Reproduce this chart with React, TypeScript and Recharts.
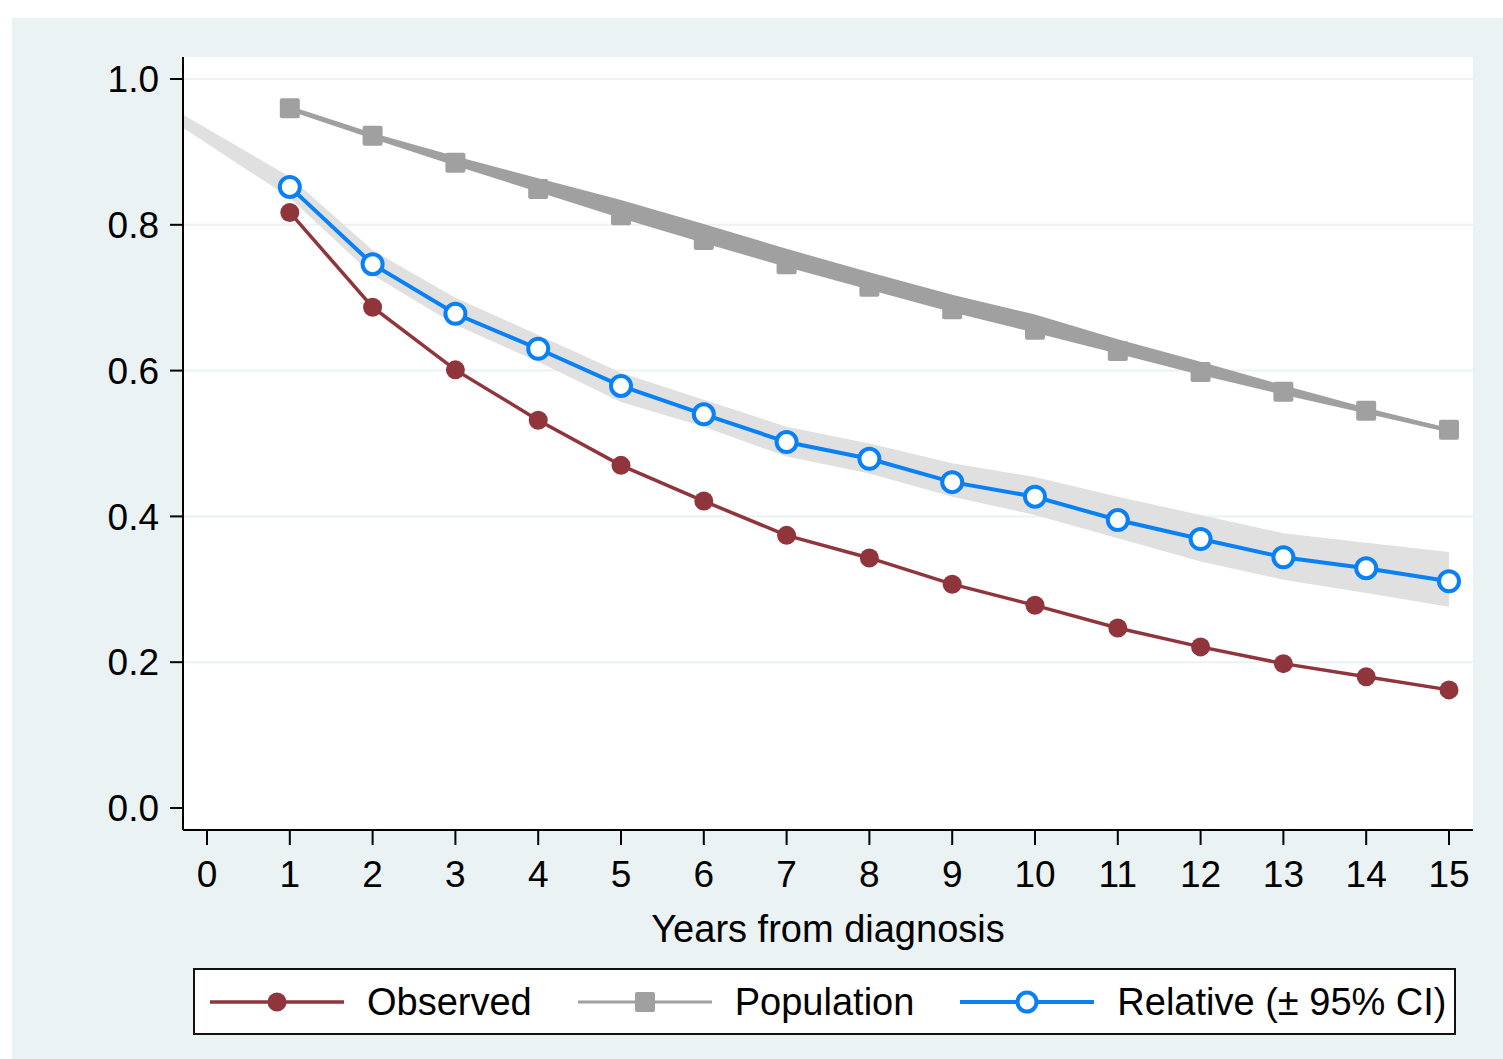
import { ComposedChart, Line, Area, XAxis, YAxis, CartesianGrid } from 'recharts'

const years = [1, 2, 3, 4, 5, 6, 7, 8, 9, 10, 11, 12, 13, 14, 15]
const observed = [0.817, 0.687, 0.601, 0.532, 0.47, 0.421, 0.374, 0.343, 0.307, 0.278, 0.247, 0.221, 0.198, 0.18, 0.162]
const population = [0.96, 0.922, 0.885, 0.849, 0.813, 0.779, 0.746, 0.715, 0.684, 0.656, 0.627, 0.598, 0.571, 0.545, 0.519]
const popUpper = [0.963, 0.926, 0.894, 0.864, 0.834, 0.801, 0.767, 0.735, 0.704, 0.677, 0.643, 0.612, 0.58, 0.549, 0.521]
const popLower = [0.956, 0.918, 0.881, 0.845, 0.809, 0.775, 0.742, 0.711, 0.68, 0.652, 0.623, 0.594, 0.567, 0.541, 0.515]
const relative = [0.852, 0.746, 0.678, 0.63, 0.579, 0.54, 0.502, 0.479, 0.447, 0.427, 0.395, 0.369, 0.344, 0.329, 0.311]
const relUpper = [0.866, 0.765, 0.7, 0.649, 0.597, 0.56, 0.523, 0.5, 0.473, 0.454, 0.427, 0.402, 0.377, 0.364, 0.351]
const relLower = [0.837, 0.731, 0.663, 0.612, 0.557, 0.523, 0.482, 0.459, 0.427, 0.402, 0.37, 0.338, 0.313, 0.295, 0.276]
// CI band runs on to the left edge of the plot
const bandStart = { year: -0.29, relLo: 0.933, relHi: 0.951 }

const xTicks = [0, 1, 2, 3, 4, 5, 6, 7, 8, 9, 10, 11, 12, 13, 14, 15]
const yTicks = [0, 0.2, 0.4, 0.6, 0.8, 1.0]

const RED = '#90353B'
const GREY = '#A0A0A0'
const BLUE = '#0A80F5'
const BAND = '#E0E0E0'
const BG = '#EAF2F3'
const FONT = '"Liberation Sans", Arial, sans-serif'

const data = [
  bandStart,
  ...years.map((y, i) => ({
    year: y,
    obs: observed[i],
    pop: population[i],
    popLo: popLower[i],
    popHi: popUpper[i],
    rel: relative[i],
    relLo: relLower[i],
    relHi: relUpper[i],
  })),
]

const legendItems = [
  { name: 'Observed', color: RED, marker: 'dot', width: 3.5 },
  { name: 'Population', color: GREY, marker: 'square', width: 3 },
  { name: 'Relative (\u00b1 95% CI)', color: BLUE, marker: 'ring', width: 4 },
]

const ok = (v: any) => typeof v === 'number' && isFinite(v)

const DotMark = (p: any) => ok(p.cx) && ok(p.cy) ? <circle key={p.key} cx={p.cx} cy={p.cy} r={9.5} fill={RED} /> : <g key={p.key} />
const SquareMark = (p: any) => ok(p.cx) && ok(p.cy) ? <rect key={p.key} x={p.cx - 10} y={p.cy - 10} width={20} height={20} rx={2} fill={GREY} /> : <g key={p.key} />
const RingMark = (p: any) => ok(p.cx) && ok(p.cy) ? <circle key={p.key} cx={p.cx} cy={p.cy} r={10} fill="#fff" stroke={BLUE} strokeWidth={4} /> : <g key={p.key} />

function LegendBox() {
  return (
    <div style={{ position: 'absolute', left: 193, top: 968, width: 1263, height: 67, boxSizing: 'border-box', border: '2px solid #111', background: '#fff', display: 'flex', alignItems: 'center', paddingLeft: 15, fontFamily: FONT, fontSize: 38, color: '#000' }}>
      {legendItems.map((it, i) => (
        <div key={it.name} style={{ display: 'flex', alignItems: 'center', marginLeft: i === 0 ? 0 : 46 }}>
          <svg width={134} height={30}>
            <line x1={0} x2={134} y1={15} y2={15} stroke={it.color} strokeWidth={it.width} />
            {it.marker === 'dot' && <circle cx={67} cy={15} r={9.5} fill={it.color} />}
            {it.marker === 'square' && <rect x={57} y={5} width={20} height={20} rx={2} fill={it.color} />}
            {it.marker === 'ring' && <circle cx={67} cy={15} r={9.5} fill="#fff" stroke={it.color} strokeWidth={4} />}
          </svg>
          <span style={{ marginLeft: 23, lineHeight: 1 }}>{it.name}</span>
        </div>
      ))}
    </div>
  )
}

export default function App() {
  return (
    <div style={{ position: 'absolute', left: 0, top: 0, width: 1503, height: 1059, background: '#fff', overflow: 'hidden' }}>
      <div style={{ position: 'absolute', left: 12, top: 18, right: 0, bottom: 0, background: BG }} />
      <div style={{ position: 'absolute', left: 0, top: 0, fontFamily: FONT }}>
        <ComposedChart width={1503} height={1059} data={data} margin={{ top: 57, right: 30, bottom: 109, left: 63 }}>
          <CartesianGrid vertical={false} fill="#fff" fillOpacity={1} stroke={BG} strokeWidth={2} horizontalValues={[0.2, 0.4, 0.6, 0.8, 1.0]} />
          <XAxis
            dataKey="year"
            type="number"
            domain={[-0.29, 15.29]}
            allowDataOverflow
            ticks={xTicks}
            interval={0}
            height={120}
            tickSize={15}
            tickMargin={16}
            axisLine={{ stroke: '#000', strokeWidth: 2 }}
            tickLine={{ stroke: '#000', strokeWidth: 2 }}
            tick={{ fontSize: 37, fill: '#000', fontFamily: FONT }}
            label={{ value: 'Years from diagnosis', position: 'insideBottom', offset: 8, fontSize: 38, fill: '#000', fontFamily: FONT }}
          />
          <YAxis
            type="number"
            domain={[-0.0302, 1.0302]}
            allowDataOverflow
            ticks={yTicks}
            interval={0}
            width={120}
            tickSize={13}
            tickMargin={11}
            tickFormatter={(v: number) => v.toFixed(1)}
            axisLine={{ stroke: '#000', strokeWidth: 2 }}
            tickLine={{ stroke: '#000', strokeWidth: 2 }}
            tick={{ fontSize: 37, fill: '#000', fontFamily: FONT }}
          />
          <Area dataKey={(d: any) => [d.relLo, d.relHi]} type="linear" fill={BAND} fillOpacity={1} stroke="none" isAnimationActive={false} activeDot={false} />
          <Area dataKey={(d: any) => (ok(d.popLo) ? [d.popLo, d.popHi] : null)} type="linear" fill={GREY} fillOpacity={1} stroke="none" isAnimationActive={false} activeDot={false} />
          <Line dataKey="obs" type="linear" stroke={RED} strokeWidth={3.5} dot={DotMark} activeDot={false} isAnimationActive={false} />
          <Line dataKey="pop" type="linear" stroke={GREY} strokeWidth={3} dot={SquareMark} activeDot={false} isAnimationActive={false} />
          <Line dataKey="rel" type="linear" stroke={BLUE} strokeWidth={4} dot={RingMark} activeDot={false} isAnimationActive={false} />
        </ComposedChart>
      </div>
      <LegendBox />
    </div>
  )
}
